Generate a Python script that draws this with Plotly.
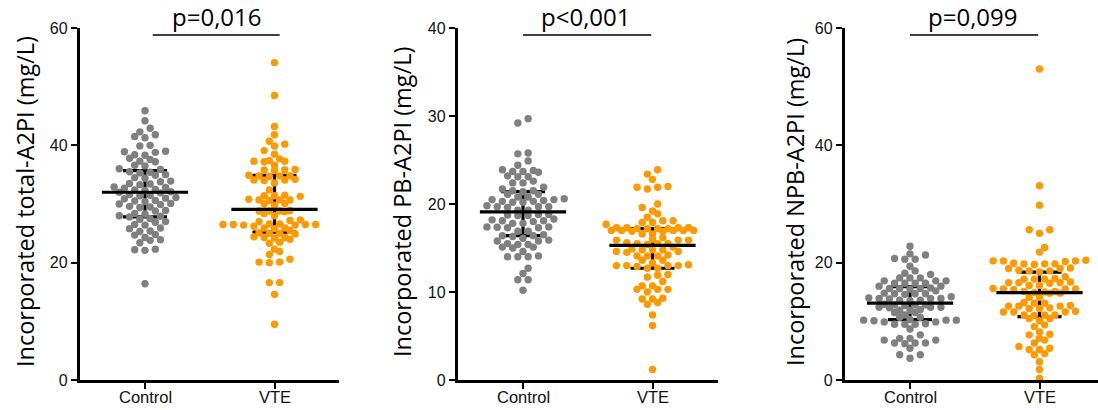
import plotly.graph_objects as go

groups = ["Control", "VTE"]

# ---- Panel 1: total-A2PI (mg/L) ----
total_control = [45.9, 44.2, 42.9, 42.3, 41.8, 41.5, 41.3, 39.9, 40.0, 38.9, 38.8, 39.0, 38.4, 38.3,
                 37.8, 37.6, 37.3, 37.2, 36.6, 36.5, 36.0, 35.9, 35.4, 35.5, 35.3, 35.0, 34.9, 34.5,
                 34.4, 33.9, 33.8, 33.4, 33.3, 33.5, 32.8, 32.9, 32.7, 32.4, 32.3, 32.5, 32.0, 31.9,
                 32.1, 31.5, 31.4, 31.6, 31.0, 30.9, 31.1, 30.5, 30.4, 30.6, 30.0, 29.9, 30.1, 29.5,
                 29.4, 29.6, 28.9, 28.8, 28.4, 28.3, 27.9, 27.8, 28.0, 27.5, 27.4, 27.0, 26.9, 26.5,
                 26.4, 25.9, 25.8, 25.4, 25.3, 24.8, 24.7, 24.3, 23.9, 23.8, 23.4, 22.3, 22.2, 22.1,
                 16.4]
total_vte = [54.1, 48.5, 43.2, 41.8, 40.7, 40.2, 39.9, 39.1, 38.5, 37.7, 37.3, 37.3, 37.2, 37.4,
             36.6, 35.8, 35.8, 35.9, 35.7, 34.8, 34.8, 34.9, 34.7, 34.8, 34.1, 34.1, 34.0, 34.2,
             33.6, 32.4, 31.4, 31.4, 31.5, 31.3, 30.7, 30.7, 30.8, 30.6, 30.7, 30.1, 30.0, 29.8,
             28.8, 28.8, 28.9, 28.7, 28.8, 28.4, 28.0, 27.3, 27.2, 27.0, 26.5, 26.5, 26.6, 26.4,
             26.5, 26.6, 26.4, 26.5, 26.2, 25.9, 25.9, 25.8, 25.5, 25.0, 25.0, 25.1, 24.9, 24.3,
             24.3, 24.4, 24.2, 24.0, 23.5, 23.3, 22.3, 21.9, 21.4, 20.6, 20.1, 20.0, 20.1, 16.6,
             16.6, 14.6, 9.5]
total_median = [32.0, 29.1]
total_q1 = [27.8, 25.2]
total_q3 = [35.7, 34.9]

# ---- Panel 2: PB-A2PI (mg/L) ----
pb_control = [29.7, 29.2, 25.8, 25.7, 24.9, 24.4, 23.9, 23.7, 23.7, 23.6, 23.8, 23.1, 23.1, 23.2,
              22.6, 22.4, 22.4, 21.9, 21.7, 21.5, 21.5, 21.4, 21.1, 21.1, 20.8, 20.8, 20.5, 20.5,
              20.6, 20.4, 20.3, 20.2, 20.3, 20.2, 19.7, 19.7, 19.8, 19.6, 19.7, 19.3, 19.3, 18.75,
              18.8, 18.7, 18.8, 18.7, 18.3, 18.1, 18.1, 18.0, 18.2, 17.8, 17.8, 17.35, 17.4, 17.3,
              17.4, 17.3, 16.9, 16.9, 16.4, 16.5, 16.4, 16.3, 16.1, 15.8, 15.8, 15.9, 15.4, 15.4,
              15.5, 15.1, 15.1, 15.0, 14.6, 14.1, 14.0, 14.0, 14.0, 12.7, 12.1, 11.4, 11.4, 10.2]
pb_vte = [23.9, 23.4, 22.8, 22.0, 21.9, 21.9, 21.7, 20.0, 19.6, 19.2, 18.9, 18.5, 18.1, 18.1,
          17.9, 17.9, 17.7, 17.2, 17.3, 17.2, 17.3, 17.2, 17.3, 17.2, 17.3, 17.0, 17.0, 16.9,
          17.0, 16.9, 17.0, 17.0, 16.6, 16.6, 16.2, 16.0, 15.9, 15.9, 15.9, 15.5, 15.5, 15.6,
          15.5, 15.4, 15.1, 14.8, 14.8, 14.9, 14.8, 14.6, 14.6, 14.5, 14.1, 14.1, 14.2, 14.1,
          13.6, 13.6, 13.3, 13.0, 13.0, 13.1, 12.9, 13.0, 13.0, 12.7, 12.7, 12.0, 11.9, 11.7,
          11.2, 10.7, 10.7, 10.3, 10.3, 10.3, 10.0, 9.2, 9.2, 9.3, 8.8, 8.6, 7.4, 6.2, 1.2]
pb_median = [19.1, 15.3]
pb_q1 = [16.4, 12.7]
pb_q3 = [21.4, 17.2]

# ---- Panel 3: NPB-A2PI (mg/L) ----
npb_control = [22.8, 21.3, 21.5, 20.6, 20.6, 20.7, 19.4, 18.6, 18.2, 18.0, 17.4, 17.4, 17.4, 16.9,
               16.9, 16.9, 16.5, 16.5, 16.5, 16.5, 16.0, 16.0, 15.6, 15.6, 15.7, 15.6, 15.5, 15.2,
               14.7, 14.7, 14.8, 14.7, 14.6, 14.2, 13.9, 13.9, 13.8, 13.9, 14.0, 13.6, 13.6, 13.5,
               12.8, 12.8, 12.9, 12.8, 12.7, 12.4, 12.4, 12.3, 12.4, 11.9, 11.9, 12.0, 11.5, 11.5,
               11.1, 10.7, 10.7, 10.2, 10.2, 10.3, 10.2, 10.1, 9.9, 9.9, 9.5, 9.5, 9.5, 9.6, 8.7,
               7.7, 7.1, 7.1, 6.8, 6.8, 6.3, 6.3, 6.3, 6.2, 5.4, 4.3, 4.3, 3.7]
npb_vte = [53.0, 33.1, 29.8, 25.6, 25.6, 25.0, 22.6, 21.8, 20.3, 20.3, 20.4, 20.2, 20.3, 19.8,
           19.8, 19.7, 19.8, 19.9, 19.0, 19.0, 19.1, 18.6, 18.6, 18.7, 18.4, 17.6, 17.2, 17.2,
           17.3, 17.2, 16.6, 16.6, 16.7, 16.6, 16.5, 16.1, 16.1, 15.5, 15.5, 15.6, 15.5, 15.4,
           15.1, 15.1, 15.0, 14.8, 14.8, 14.9, 14.1, 14.1, 13.1, 13.1, 13.2, 12.6, 12.6, 12.7,
           12.6, 12.2, 12.2, 12.3, 11.6, 11.6, 11.7, 11.6, 11.1, 11.1, 11.0, 11.1, 10.5, 10.5,
           10.1, 9.4, 9.1, 8.2, 7.8, 7.7, 7.1, 6.8, 6.3, 5.7, 5.4, 5.2, 5.2, 4.5, 4.3, 3.1,
           1.8, 0.3]
npb_median = [13.1, 14.9]
npb_q1 = [10.3, 10.8]
npb_q3 = [15.9, 18.4]

p_texts = ["p=0,016", "p<0,001", "p=0,099"]
y_titles = ["Incorporated total-A2PI (mg/L)", "Incorporated PB-A2PI (mg/L)",
            "Incorporated NPB-A2PI (mg/L)"]
y_max = [60, 40, 60]
y_ticks = [[0, 20, 40, 60], [0, 10, 20, 30, 40], [0, 20, 40, 60]]

colors = ["#808080", "#FF9900"]

W, H = 1098, 410
plot_top_px, plot_bot_px = 28, 380
# (axis-left px, control-center px, right-edge px)
panel_px = [(80, 145, 339), (458, 523, 718), (845, 910, 1098)]
unit_px = 129.5
title_x_px = [25, 402, 795]


def row_scatter_offsets(values, ypx, xpx, row_px=4.5, col_px=10.3, d=7.5):
    """Prism-like column scatter: near-equal values share a row spread on a
    column grid; each row is shifted by half a column when that avoids overlap."""
    order = sorted(range(len(values)), key=lambda i: values[i])
    rows = []
    for i in order:
        if rows and (values[i] - values[rows[-1][0]]) * ypx < row_px:
            rows[-1].append(i)
        else:
            rows.append([i])
    offs = [0.0] * len(values)
    placed = []
    for row in rows:
        n = len(row)
        base = [(k - (n - 1) / 2.0) * col_px for k in range(n)]
        best, best_pen = 0.0, None
        for shift in (0.0, col_px / 2, -col_px / 2):
            pen = 0.0
            for idx, x in zip(row, base):
                y = values[idx] * ypx
                for px, py in placed:
                    if abs(py - y) < d:
                        dist = ((x + shift - px) ** 2 + (y - py) ** 2) ** 0.5
                        if dist < d:
                            pen += d - dist
            pen += abs(shift) * 0.05
            if best_pen is None or pen < best_pen - 1e-9:
                best, best_pen = shift, pen
        pos = sorted([b + best for b in base], key=lambda x: (abs(x), x))
        for idx, x in zip(row, pos):
            offs[idx] = x / xpx
            placed.append((x, values[idx] * ypx))
    return offs


fig = go.Figure()
data = [(total_control, total_vte), (pb_control, pb_vte), (npb_control, npb_vte)]
stats = [(total_median, total_q1, total_q3), (pb_median, pb_q1, pb_q3), (npb_median, npb_q1, npb_q3)]

ydom = [(H - plot_bot_px) / H, (H - plot_top_px) / H]

for p in range(3):
    ax_l, c0, ax_r = panel_px[p]
    xr = [(ax_l - c0) / unit_px, (ax_r - c0) / unit_px]
    xa = "x" if p == 0 else f"x{p + 1}"
    ya = "y" if p == 0 else f"y{p + 1}"
    ypx = (plot_bot_px - plot_top_px) / y_max[p]
    med, q1, q3 = stats[p]
    for g in range(2):
        cap = 0.17
        fig.add_trace(go.Scatter(
            x=[g - cap, g + cap, None, g, g, None, g - cap, g + cap],
            y=[q3[g], q3[g], None, q3[g], q1[g], None, q1[g], q1[g]],
            mode="lines", line=dict(color="black", width=3.2),
            xaxis=xa, yaxis=ya, showlegend=False, hoverinfo="skip"))
    for g in range(2):
        vals = data[p][g]
        offs = row_scatter_offsets(vals, ypx, unit_px)
        fig.add_trace(go.Scatter(
            x=[g + o for o in offs], y=vals, mode="markers",
            marker=dict(color=colors[g], size=7.4, line=dict(width=0)),
            xaxis=xa, yaxis=ya, showlegend=False, cliponaxis=False))
    for g in range(2):
        fig.add_trace(go.Scatter(
            x=[g - 0.333, g + 0.333], y=[med[g], med[g]], mode="lines",
            line=dict(color="black", width=3.2),
            xaxis=xa, yaxis=ya, showlegend=False, hoverinfo="skip"))
    dom = [ax_l / W, min(ax_r / W, 1.0)]
    axis_common = dict(showline=True, linewidth=3.4, linecolor="black", showgrid=False,
                       zeroline=False, ticks="outside", tickwidth=2.2, ticklen=6,
                       tickcolor="black", automargin=False)
    fig.layout[("xaxis" if p == 0 else f"xaxis{p + 1}")] = dict(
        domain=dom, range=xr, tickvals=[0, 1], showticklabels=False,
        anchor=ya, **axis_common)
    fig.layout[("yaxis" if p == 0 else f"yaxis{p + 1}")] = dict(
        domain=ydom, range=[0, y_max[p]], tickvals=y_ticks[p],
        anchor=xa, tickfont=dict(family="Liberation Sans, Arial", size=16, color="#111"),
        **axis_common)
    for g in range(2):
        fig.add_annotation(text=groups[g], xref=xa, yref="paper", x=g,
                           y=(H - 397) / H, showarrow=False, yanchor="middle",
                           xanchor="center",
                           font=dict(family="Liberation Sans, Arial", size=16.5, color="#111"))
    fig.add_shape(type="line", xref=xa, yref="paper", x0=0.0 if p else 0.06,
                  x1=0.99 if p else 1.04, y0=(H - 35) / H, y1=(H - 35) / H,
                  line=dict(color="black", width=1.3))
    fig.add_annotation(text=p_texts[p], xref=xa, yref="paper", x=0.49 if p else 0.555,
                       y=(H - 16.5) / H, showarrow=False, yanchor="middle",
                       font=dict(family="Open Sans", size=24, color="black"))
    fig.add_annotation(text=y_titles[p], xref="paper", yref="paper",
                       x=title_x_px[p] / W, y=(H - 202) / H, textangle=-90,
                       showarrow=False, xanchor="center", yanchor="middle",
                       font=dict(family="Open Sans", size=23.5, color="black"))

fig.update_layout(width=W, height=H, margin=dict(l=0, r=0, t=0, b=0),
                  plot_bgcolor="white", paper_bgcolor="white", autosize=False)
fig.write_html("out.html", config={"displayModeBar": False},
               post_script="document.body.style.margin='0';document.body.style.overflow='hidden';")
